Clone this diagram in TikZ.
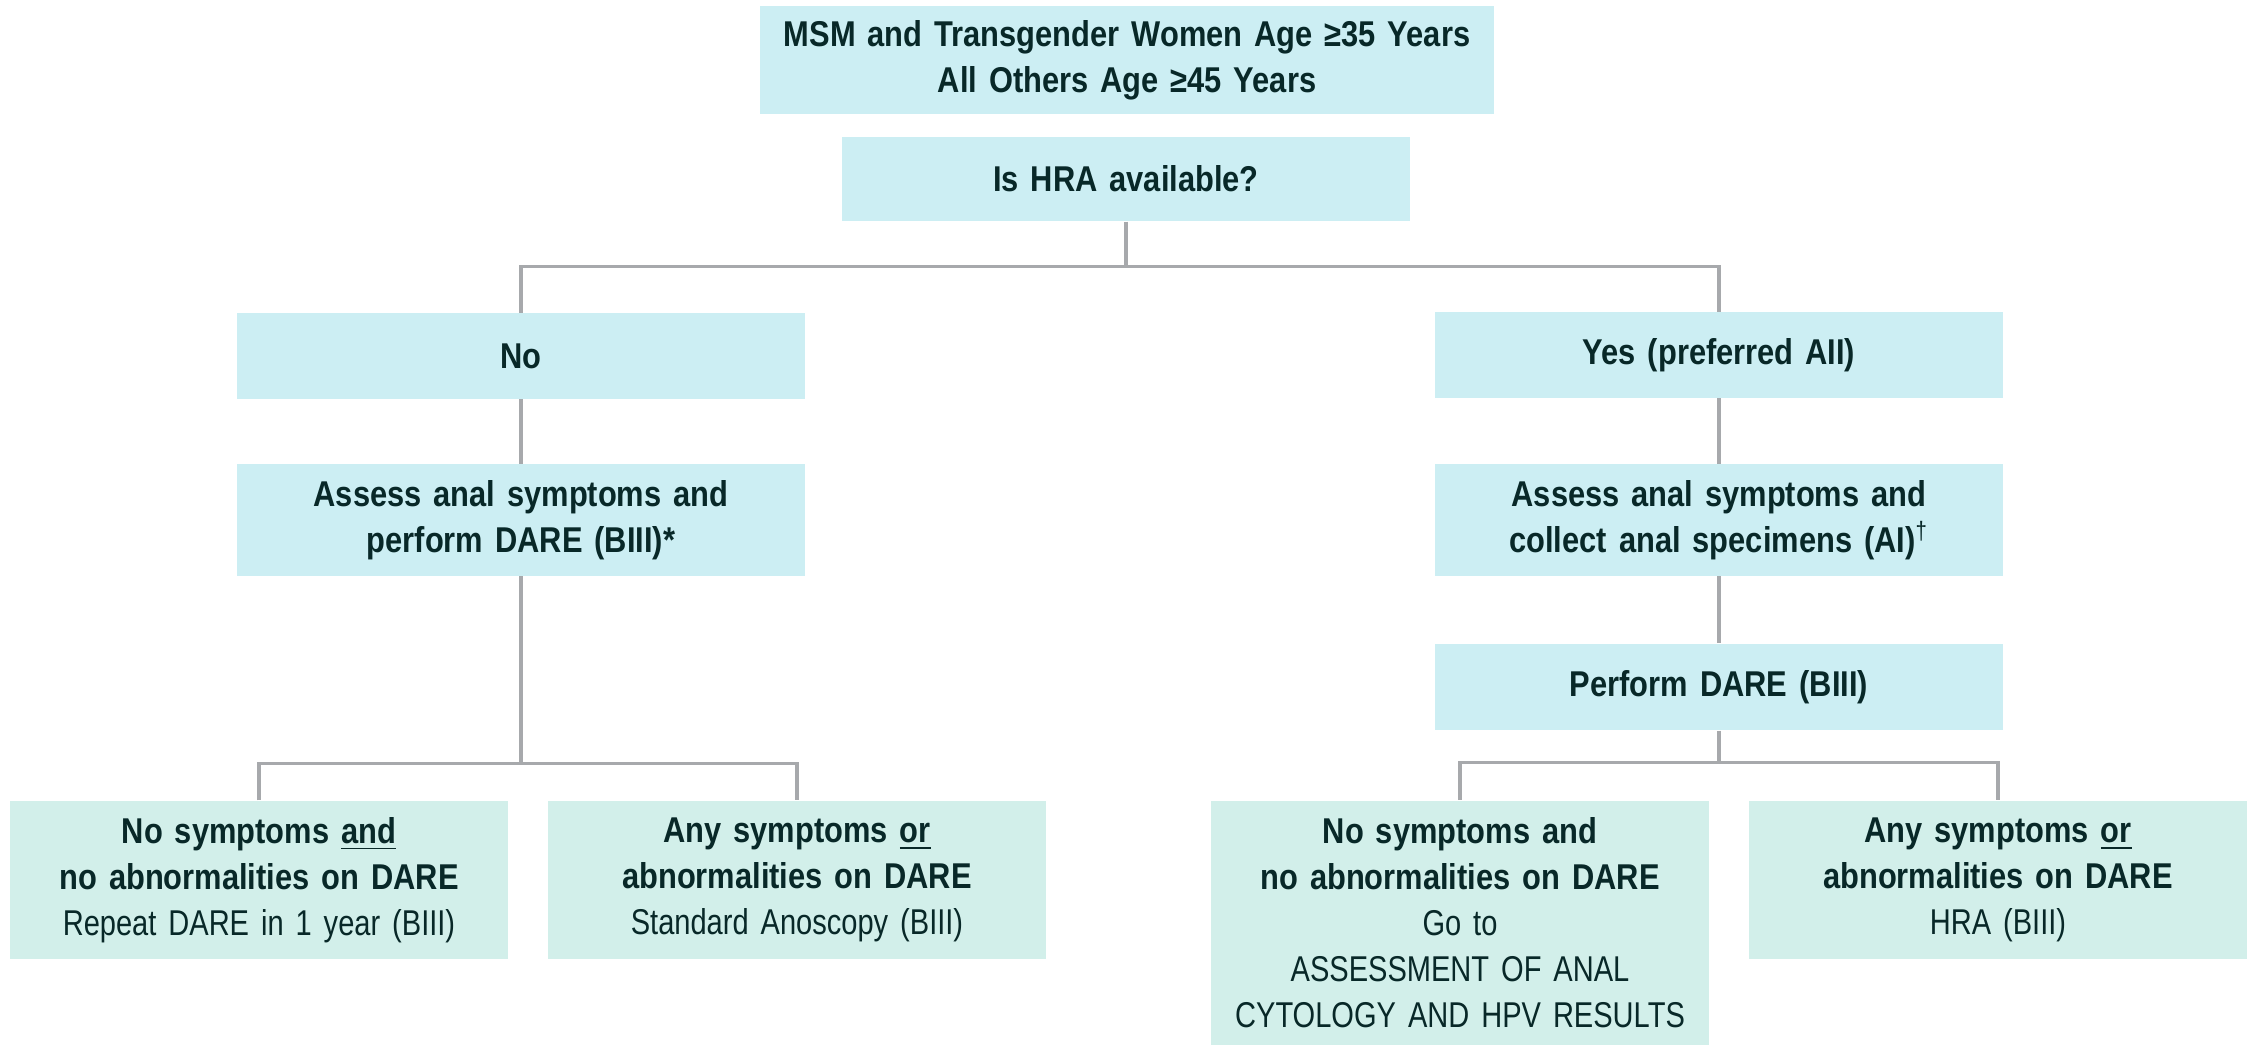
\documentclass[tikz,border=0pt]{standalone}
\usepackage{fontspec}
\setmainfont{Liberation Sans}[UprightFeatures={FakeStretch=0.81},BoldFeatures={FakeStretch=0.86}]
\usepackage{tikz}

\definecolor{hracyan}{HTML}{CCEEF3}
\definecolor{hramint}{HTML}{D2EFEA}
\definecolor{linkgray}{HTML}{A7A9AC}
\definecolor{inkdark}{HTML}{082828}
\newcommand\boxfont{\fontsize{10.2}{13.1}\selectfont}

\tikzset{
  stepbox/.style={fill=hracyan,text=inkdark,align=center,inner sep=0pt,
    font=\boxfont\bfseries,text width=5.68cm},
  endbox/.style={fill=hramint,text=inkdark,align=center,inner sep=0pt,
    font=\boxfont,text width=4.97cm,minimum height=1.58cm},
  link/.style={draw=linkgray,line width=0.9pt},
}

\begin{document}
\begin{tikzpicture}[x=0.01cm,y=-0.01cm]
  \useasboundingbox (0,0) rectangle (2254,1045);
  % screening entry
  \node[stepbox,text width=7.33cm,minimum height=1.07cm] (entry) at (1127,60)
    {MSM and Transgender Women Age ≥35 Years\\All Others Age ≥45 Years};
  \node[stepbox,minimum height=0.84cm] (hra) at (1126,179) {Is HRA available?};
  % no HRA
  \node[stepbox,minimum height=0.85cm] (no) at (521,356) {No};
  \node[stepbox,minimum height=1.11cm] (assessL) at (521,520)
    {Assess anal symptoms and\\perform DARE (BIII)*};
  \node[endbox] (bl1) at (259,880)
    {\textbf{No symptoms \underline{and}}\\\textbf{no abnormalities on DARE}\\Repeat DARE in 1 year (BIII)};
  \node[endbox] (bl2) at (797,880)
    {\textbf{Any symptoms \underline{or}}\\\textbf{abnormalities on DARE}\\Standard Anoscopy (BIII)};
  % HRA available
  \node[stepbox,minimum height=0.85cm] (yes) at (1719,355) {Yes (preferred AII)};
  \node[stepbox,minimum height=1.11cm] (assessR) at (1719,520)
    {Assess anal symptoms and\\collect anal specimens (AI)\textsuperscript{\mdseries\textdagger}};
  \node[stepbox,minimum height=0.86cm] (dareR) at (1719,687) {Perform DARE (BIII)};
  \node[endbox,minimum height=2.44cm] (br1) at (1460,923)
    {\textbf{No symptoms and}\\\textbf{no abnormalities on DARE}\\Go to\\ASSESSMENT OF ANAL\\CYTOLOGY AND HPV RESULTS};
  \node[endbox] (br2) at (1998,880)
    {\textbf{Any symptoms \underline{or}}\\\textbf{abnormalities on DARE}\\HRA (BIII)};

  % connectors
  \draw[link] (hra.south) -- ++(0,45) coordinate (hsplit);
  \draw[link] (no.north) |- (hsplit) -| (yes.north);
  \draw[link] (no) -- (assessL);
  \draw[link] (yes) -- (assessR);
  \draw[link] (assessR) -- (dareR);
  \draw[link] (assessL.south) -- ++(0,187) coordinate (lsplit);
  \draw[link] (bl1.north) |- (lsplit) -| (bl2.north);
  \draw[link] (dareR.south) -- ++(0,32) coordinate (rsplit);
  \draw[link] (br1.north) |- (rsplit) -| (br2.north);
\end{tikzpicture}
\end{document}
